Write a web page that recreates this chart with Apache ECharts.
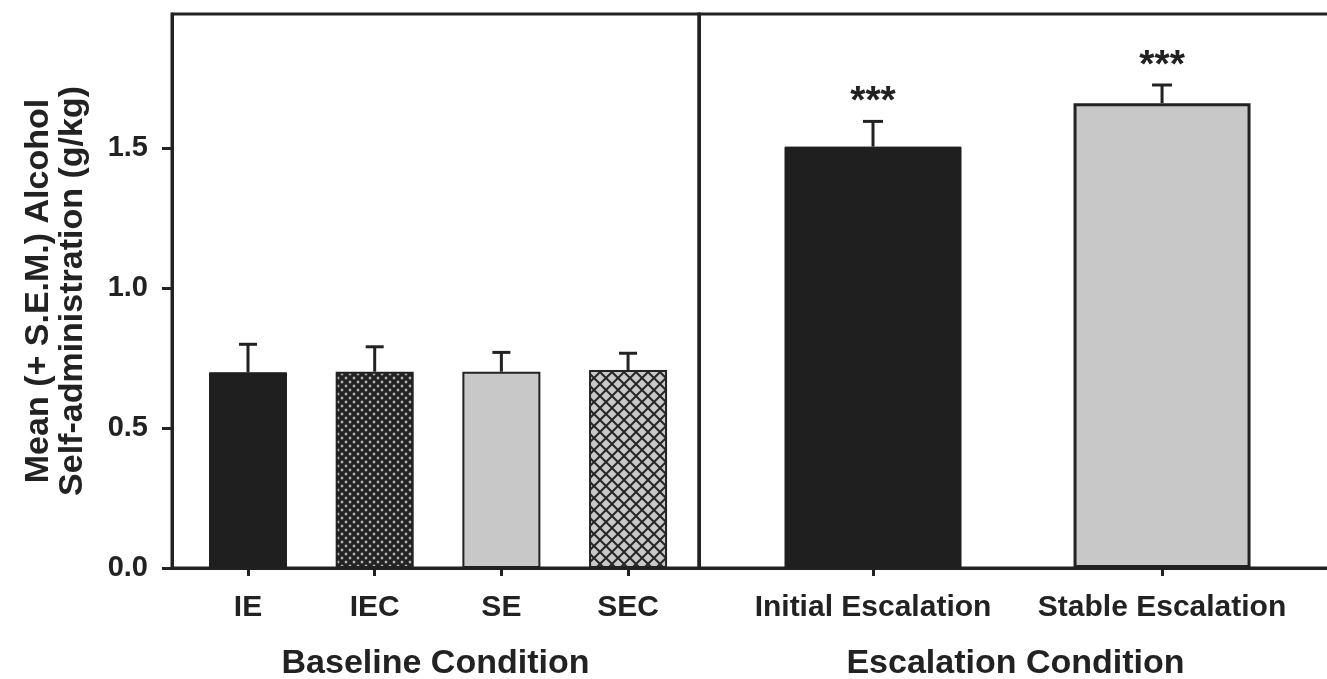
<!DOCTYPE html>
<html>
<head>
<meta charset="utf-8">
<script src="https://cdn.jsdelivr.net/npm/echarts@6/dist/echarts.min.js"></script>
<style>
html,body{margin:0;padding:0;background:#fff;}
#chart{width:1327px;height:679px;}
</style>
</head>
<body>
<div id="chart"></div>
<script>
// ---- data ----
const baselineCategories = ['IE', 'IEC', 'SE', 'SEC'];
const baselineMeans = [0.699, 0.701, 0.701, 0.707];
const baselineSEM = [0.100, 0.089, 0.069, 0.060];
const escalationCategories = ['Initial Escalation', 'Stable Escalation'];
const escalationMeans = [1.505, 1.66];
const escalationSEM = [0.090, 0.065];
const escalationSig = ['***', '***'];
const yTicks = [0, 0.5, 1.0, 1.5];
const yAxisTitle = 'Mean (+ S.E.M.) Alcohol\nSelf-administration (g/kg)';
const baselineTitle = 'Baseline Condition';
const escalationTitle = 'Escalation Condition';

// ---- styling helpers ----
const INK = '#222222';
const DARK = '#1f1f1f';
const GRAY = '#c8c8c8';
const FONT = '"Liberation Sans", Arial, Helvetica, sans-serif';

function makeTile(size, draw) {
  const c = document.createElement('canvas');
  c.width = size; c.height = size;
  draw(c.getContext('2d'), size);
  return { image: c, repeat: 'repeat' };
}
const fineHatch = makeTile(8, (g, s) => {
  g.fillStyle = '#232323'; g.fillRect(0, 0, s, s);
  g.fillStyle = '#b8b8b8';
  [[2, 2], [6, 6]].forEach(([cx, cy]) => {
    g.beginPath();
    g.moveTo(cx, cy - 1.7); g.lineTo(cx + 1.7, cy); g.lineTo(cx, cy + 1.7); g.lineTo(cx - 1.7, cy);
    g.closePath(); g.fill();
  });
});
const wideHatch = makeTile(12, (g, s) => {
  g.fillStyle = GRAY; g.fillRect(0, 0, s, s);
  g.strokeStyle = '#262626'; g.lineWidth = 2;
  [-s, 0, s].forEach(k => {
    g.beginPath(); g.moveTo(k, 0); g.lineTo(k + s, s); g.stroke();
    g.beginPath(); g.moveTo(k + s, 0); g.lineTo(k, s); g.stroke();
  });
});

const baselineStyles = [
  { color: DARK, borderColor: DARK, borderWidth: 1 },
  { color: fineHatch, borderColor: INK, borderWidth: 2 },
  { color: GRAY, borderColor: INK, borderWidth: 2 },
  { color: wideHatch, borderColor: INK, borderWidth: 2 }
];
const escalationStyles = [
  { color: DARK, borderColor: DARK, borderWidth: 1 },
  { color: GRAY, borderColor: INK, borderWidth: 3 }
];

const PLOT_TOP = 14, PLOT_BOTTOM = 568, PX_PER_UNIT = 280;
const yMax = (PLOT_BOTTOM - PLOT_TOP) / PX_PER_UNIT;

function errRender(capHalf, sigs) {
  return function (params, api) {
    const x = api.value(0), m = api.value(1), e = api.value(2);
    const p0 = api.coord([x, m]);
    const p1 = api.coord([x, m + e]);
    const style = { stroke: INK, lineWidth: 3 };
    const children = [
      { type: 'line', shape: { x1: p0[0], y1: p0[1], x2: p1[0], y2: p1[1] }, style },
      { type: 'line', shape: { x1: p1[0] - capHalf, y1: p1[1], x2: p1[0] + capHalf, y2: p1[1] }, style }
    ];
    if (sigs && sigs[params.dataIndex]) {
      children.push({
        type: 'text',
        style: {
          text: sigs[params.dataIndex], x: p1[0], y: p1[1] - 19,
          align: 'center', verticalAlign: 'middle',
          font: 'bold 39px ' + FONT, fill: INK
        }
      });
    }
    return { type: 'group', children };
  };
}

const textStyle = { fontFamily: FONT, fontWeight: 'bold', color: INK };

const option = {
  animation: false,
  backgroundColor: '#fff',
  grid: [
    { left: 172, width: 527, top: PLOT_TOP, height: PLOT_BOTTOM - PLOT_TOP,
      outerBoundsMode: 'none', containLabel: false,
      show: true, borderColor: INK, borderWidth: 3, backgroundColor: 'transparent' },
    { left: 699, width: 633, top: PLOT_TOP, height: PLOT_BOTTOM - PLOT_TOP,
      outerBoundsMode: 'none', containLabel: false,
      show: true, borderColor: INK, borderWidth: 3, backgroundColor: 'transparent' }
  ],
  xAxis: [
    { type: 'value', gridIndex: 0, min: -0.6, max: 3.56,
      name: baselineTitle, nameLocation: 'middle', nameGap: 79,
      nameTextStyle: Object.assign({ fontSize: 34 }, textStyle),
      axisLine: { show: true, onZero: false, lineStyle: { color: INK, width: 3 } },
      axisTick: { show: true, length: 8, lineStyle: { color: INK, width: 3 },
        customValues: baselineCategories.map((_, i) => i) },
      axisLabel: Object.assign({ fontSize: 30, margin: 25,
        customValues: baselineCategories.map((_, i) => i),
        formatter: v => baselineCategories[Math.round(v)] || '' }, textStyle),
      splitLine: { show: false } },
    { type: 'value', gridIndex: 1, min: -0.602, max: 1.588,
      name: escalationTitle, nameLocation: 'middle', nameGap: 79,
      nameTextStyle: Object.assign({ fontSize: 34 }, textStyle),
      axisLine: { show: true, onZero: false, lineStyle: { color: INK, width: 3 } },
      axisTick: { show: true, length: 8, lineStyle: { color: INK, width: 3 },
        customValues: escalationCategories.map((_, i) => i) },
      axisLabel: Object.assign({ fontSize: 30, margin: 25,
        customValues: escalationCategories.map((_, i) => i),
        formatter: v => escalationCategories[Math.round(v)] || '' }, textStyle),
      splitLine: { show: false } }
  ],
  yAxis: [
    { type: 'value', gridIndex: 0, min: 0, max: yMax,
      name: yAxisTitle, nameLocation: 'middle', nameGap: 82, nameRotate: 90,
      nameTextStyle: Object.assign({ fontSize: 34, lineHeight: 34, align: 'center' }, textStyle),
      axisLine: { show: true, onZero: false, lineStyle: { color: INK, width: 3 } },
      axisTick: { show: true, length: 10, lineStyle: { color: INK, width: 3 }, customValues: yTicks },
      axisLabel: Object.assign({ fontSize: 29, margin: 24, customValues: yTicks,
        formatter: v => v.toFixed(1) }, textStyle),
      splitLine: { show: false } },
    { type: 'value', gridIndex: 1, min: 0, max: yMax,
      axisLine: { show: true, onZero: false, lineStyle: { color: INK, width: 3 } },
      axisTick: { show: false }, axisLabel: { show: false }, splitLine: { show: false } }
  ],
  series: [
    { type: 'bar', xAxisIndex: 0, yAxisIndex: 0, barWidth: 78,
      data: baselineMeans.map((m, i) => ({ value: [i, m], itemStyle: baselineStyles[i] })) },
    { type: 'bar', xAxisIndex: 1, yAxisIndex: 1, barWidth: 177,
      data: escalationMeans.map((m, i) => ({ value: [i, m], itemStyle: escalationStyles[i] })) },
    { type: 'custom', xAxisIndex: 0, yAxisIndex: 0, z: 3,
      renderItem: errRender(9, null),
      data: baselineMeans.map((m, i) => [i, m, baselineSEM[i]]) },
    { type: 'custom', xAxisIndex: 1, yAxisIndex: 1, z: 3,
      renderItem: errRender(10, escalationSig),
      data: escalationMeans.map((m, i) => [i, m, escalationSEM[i]]) }
  ]
};

const chart = echarts.init(document.getElementById('chart'), null, { renderer: 'canvas' });
chart.setOption(option);
</script>
</body>
</html>
